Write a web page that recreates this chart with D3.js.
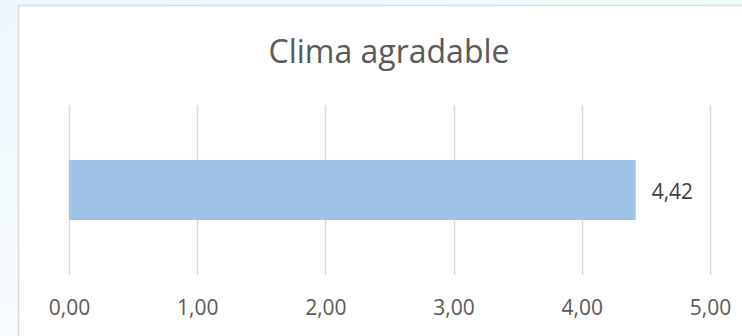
<!DOCTYPE html>
<meta charset="utf-8">
<style>
  body { margin: 0; background: #fff; }
  text { font-family: "Open Sans", sans-serif; }
</style>
<svg width="742" height="336"></svg>
<script src="https://d3js.org/d3.v7.min.js"></script>
<script>

// data
var categories = [""];
var values = [4.42];
var ticks = [0, 1, 2, 3, 4, 5];
var title = "Clima agradable";

var svg = d3.select("svg"),
    width = +svg.attr("width"),
    height = +svg.attr("height");

// backdrop behind the chart frame (light blue fading)
var defs = svg.append("defs");
var grad = defs.append("linearGradient")
    .attr("id", "bg")
    .attr("x1", 0).attr("y1", 0).attr("x2", 0.6).attr("y2", 1);
grad.append("stop").attr("offset", "0%").attr("stop-color", "#ecf8fd");
grad.append("stop").attr("offset", "100%").attr("stop-color", "#fbfdfe");

svg.append("rect")
    .attr("width", width).attr("height", height)
    .attr("fill", "url(#bg)");

svg.append("rect")
    .attr("x", 18.5).attr("y", 5.5)
    .attr("width", width + 20).attr("height", height + 20)
    .attr("fill", "#fff")
    .attr("stroke", "#d9d9d9")
    .attr("stroke-width", 1.5);

var x = d3.scaleLinear().domain([0, 5]).range([69, 710]);
var y = d3.scaleBand().domain(categories).range([105, 275])
    .paddingInner(0).paddingOuter(0.917);

var fmt = function(d) { return d3.format(".2f")(d).replace(".", ","); };

// gridlines
svg.append("g").selectAll("line")
    .data(ticks)
    .enter().append("line")
    .attr("x1", function(d) { return Math.round(x(d)) + 0.5; })
    .attr("x2", function(d) { return Math.round(x(d)) + 0.5; })
    .attr("y1", 105).attr("y2", 275)
    .attr("stroke", "#d9d9d9")
    .attr("stroke-width", 1.5);

// bars
svg.append("g").selectAll("rect")
    .data(values)
    .enter().append("rect")
    .attr("x", x(0))
    .attr("y", function(d, i) { return y(categories[i]); })
    .attr("width", function(d) { return x(d) - x(0); })
    .attr("height", y.bandwidth())
    .attr("fill", "#9dc3e6");

// data labels
svg.append("g").selectAll("text")
    .data(values)
    .enter().append("text")
    .attr("x", function(d) { return x(d) + 16; })
    .attr("y", function(d, i) { return y(categories[i]) + y.bandwidth() / 2 + 9; })
    .attr("font-size", 21)
    .attr("fill", "#404040")
    .text(fmt);

// x axis labels
var axis = svg.append("g")
    .attr("transform", "translate(0,300)")
    .call(d3.axisBottom(x).tickValues(ticks).tickFormat(fmt).tickSize(0).tickPadding(0));
axis.select(".domain").remove();
axis.selectAll("text")
    .attr("font-size", 21)
    .attr("font-family", "Open Sans, sans-serif")
    .attr("fill", "#595959");

// title
svg.append("text")
    .attr("x", 389)
    .attr("y", 63)
    .attr("text-anchor", "middle")
    .attr("font-size", 32)
    .attr("fill", "#595959")
    .text(title);

</script>
